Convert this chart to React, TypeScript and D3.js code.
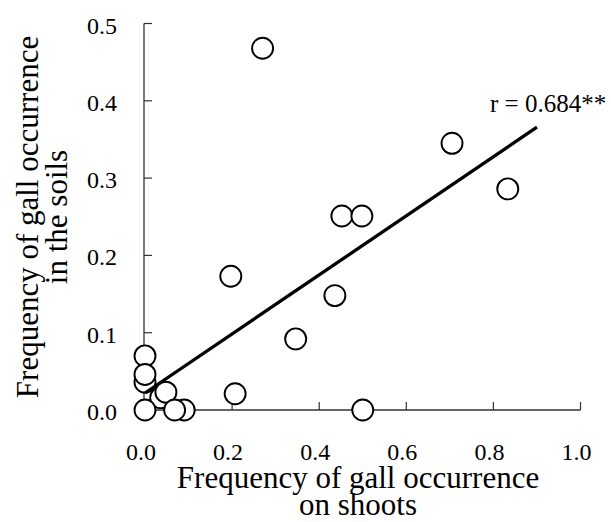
import React, { useEffect, useRef } from "react";
import * as d3 from "d3";

// frequency of gall occurrence on shoots (x) and in the soils (y)
const shootFreq = [0.27, 0.705, 0.833, 0.452, 0.498, 0.197, 0.436, 0.346, 0.207, 0, 0, 0, 0.036, 0.048, 0, 0.09, 0.068, 0.5];
const soilFreq = [0.468, 0.345, 0.286, 0.251, 0.251, 0.173, 0.148, 0.092, 0.021, 0.07, 0.036, 0.046, 0.016, 0.023, 0, 0, 0, 0];

const xTicks = [0.0, 0.2, 0.4, 0.6, 0.8, 1.0];
const yTicks = [0.0, 0.1, 0.2, 0.3, 0.4, 0.5];

// regression line
const fitIntercept = 0.022;
const fitSlope = 0.382;
const fitRange = [0, 0.9];
const fitLabel = "r = 0.684**";

const App = () => {
  const ref = useRef<SVGSVGElement | null>(null);

  useEffect(() => {
    const width = 611;
    const height = 522;
    const svg = d3.select(ref.current);
    svg.selectAll("*").remove();

    const font = "Liberation Serif, DejaVu Serif, serif";
    const x = d3.scaleLinear().domain([0, 1]).range([145, 580.5]);
    const y = d3.scaleLinear().domain([0, 0.5]).range([410, 23.5]);

    svg.attr("width", width).attr("height", height).attr("font-family", font);

    // x axis
    svg
      .append("line")
      .attr("x1", x(0) - 1)
      .attr("x2", x(1))
      .attr("y1", y(0))
      .attr("y2", y(0))
      .attr("stroke", "#333")
      .attr("stroke-width", 1.3);

    svg
      .selectAll(".xtick")
      .data(xTicks.slice(1))
      .enter()
      .append("line")
      .attr("x1", (d) => x(d))
      .attr("x2", (d) => x(d))
      .attr("y1", y(0))
      .attr("y2", y(0) - 8)
      .attr("stroke", "#333")
      .attr("stroke-width", 1.2);

    svg
      .selectAll(".xlabel")
      .data(xTicks)
      .enter()
      .append("text")
      .attr("x", (d) => x(d) - 4)
      .attr("y", 460)
      .attr("text-anchor", "middle")
      .attr("font-size", 24)
      .text((d) => d.toFixed(1));

    // y axis
    svg
      .append("line")
      .attr("x1", x(0) - 1)
      .attr("x2", x(0) - 1)
      .attr("y1", y(0))
      .attr("y2", y(0.5))
      .attr("stroke", "#333")
      .attr("stroke-width", 1.3);

    svg
      .selectAll(".ytick")
      .data(yTicks.slice(1))
      .enter()
      .append("line")
      .attr("x1", x(0) - 1)
      .attr("x2", x(0) + 7)
      .attr("y1", (d) => y(d))
      .attr("y2", (d) => y(d))
      .attr("stroke", "#333")
      .attr("stroke-width", 1.2);

    svg
      .selectAll(".ylabel")
      .data(yTicks)
      .enter()
      .append("text")
      .attr("x", 117)
      .attr("y", (d) => y(d) + 10)
      .attr("text-anchor", "end")
      .attr("font-size", 24)
      .text((d) => d.toFixed(1));

    // points
    const points = shootFreq.map((v, i) => ({ x: v, y: soilFreq[i] }));
    svg
      .selectAll(".pt")
      .data(points)
      .enter()
      .append("circle")
      .attr("cx", (d) => x(d.x))
      .attr("cy", (d) => y(d.y))
      .attr("r", 10.5)
      .attr("fill", "white")
      .attr("stroke", "black")
      .attr("stroke-width", 1.9);

    // regression line
    const line = d3
      .line<number>()
      .x((d) => x(d))
      .y((d) => y(fitIntercept + fitSlope * d));
    svg
      .append("path")
      .attr("d", line(fitRange))
      .attr("fill", "none")
      .attr("stroke", "black")
      .attr("stroke-width", 3.3);

    svg
      .append("text")
      .attr("x", 490)
      .attr("y", 112)
      .attr("font-size", 25)
      .text(fitLabel);

    // axis titles
    const xTitle = svg
      .append("text")
      .attr("text-anchor", "middle")
      .attr("font-size", 31);
    xTitle.append("tspan").attr("x", 358).attr("y", 488).text("Frequency of gall occurrence");
    xTitle.append("tspan").attr("x", 358).attr("y", 515).text("on shoots");

    const yTitle = svg
      .append("text")
      .attr("text-anchor", "middle")
      .attr("transform", "translate(0,217) rotate(-90)")
      .attr("font-size", 31);
    yTitle.append("tspan").attr("x", 0).attr("y", 38).text("Frequency of gall occurrence");
    yTitle.append("tspan").attr("x", 0).attr("y", 67).text("in the soils");
  }, []);

  return (
    <div style={{ position: "absolute", left: 0, top: 0, width: 611, height: 522, background: "white" }}>
      <svg ref={ref} style={{ display: "block" }} />
    </div>
  );
};

export default App;
